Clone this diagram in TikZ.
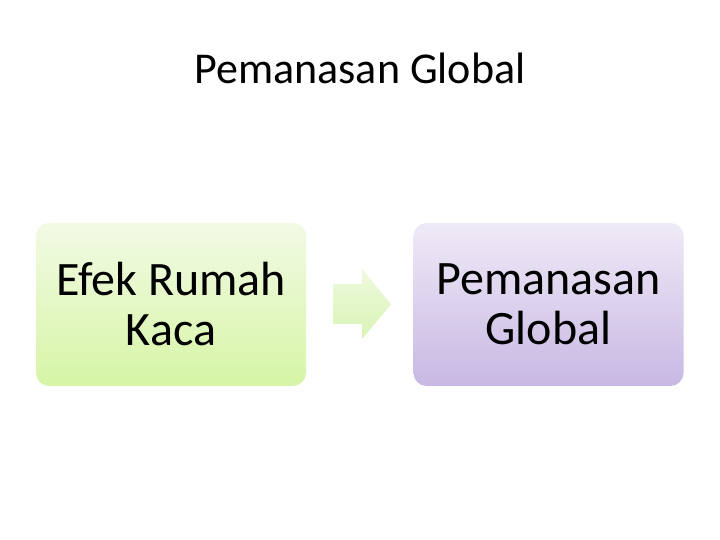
\documentclass[tikz,border=0pt]{standalone}
\usepackage{fontspec}
\setmainfont{Carlito}
\definecolor{gtop}{HTML}{F2FAE4}
\definecolor{gbot}{HTML}{D6F5A6}
\definecolor{ptop}{HTML}{EFEAF7}
\definecolor{pbot}{HTML}{C8B8E3}
\definecolor{atop}{HTML}{EEF9DE}
\definecolor{abot}{HTML}{D9F4B4}
\tikzset{
  boxnode/.style={rectangle, rounded corners=13pt, minimum width=270pt, minimum height=163pt,
    inner sep=0pt, align=center, font=\fontsize{48}{50}\selectfont, text=black},
  titlenode/.style={font=\fontsize{44}{48}\selectfont, text=black},
  arrowshape/.style={top color=atop, bottom color=abot, draw=none},
}
\begin{document}
\begin{tikzpicture}[x=1pt,y=1pt]
\useasboundingbox (0,0) rectangle (720,540);
\fill[white] (0,0) rectangle (720,540);
\node[titlenode] (title) at (360,472) {Pemanasan Global};
\node[boxnode, top color=gtop, bottom color=gbot] (a) at (171,235.5) {Efek Rumah\\Kaca};
\node[boxnode, top color=ptop, bottom color=pbot] (b) at (548.5,235.5) {Pemanasan\\Global};
\path[arrowshape] (333,256) -- (362,256) -- (362,271) -- (391,235.5) -- (362,201) -- (362,216) -- (333,216) -- cycle;
\end{tikzpicture}
\end{document}
